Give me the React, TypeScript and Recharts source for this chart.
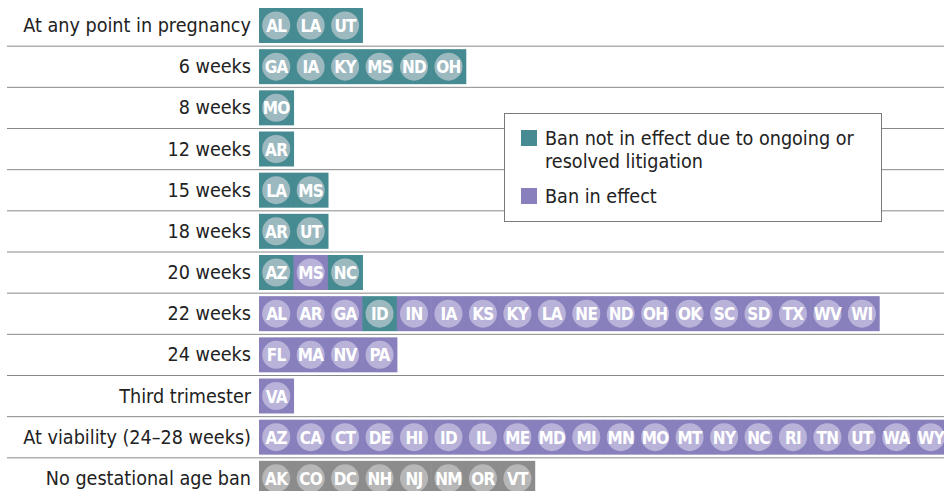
import React from 'react';
import { BarChart, Bar, XAxis, YAxis, Legend } from 'recharts';

const rowLabels = [
  'At any point in pregnancy',
  '6 weeks',
  '8 weeks',
  '12 weeks',
  '15 weeks',
  '18 weeks',
  '20 weeks',
  '22 weeks',
  '24 weeks',
  'Third trimester',
  'At viability (24–28 weeks)',
  'No gestational age ban',
];

const rowStates = [
  ['AL', 'LA', 'UT'],
  ['GA', 'IA', 'KY', 'MS', 'ND', 'OH'],
  ['MO'],
  ['AR'],
  ['LA', 'MS'],
  ['AR', 'UT'],
  ['AZ', 'MS', 'NC'],
  ['AL', 'AR', 'GA', 'ID', 'IN', 'IA', 'KS', 'KY', 'LA', 'NE', 'ND', 'OH', 'OK', 'SC', 'SD', 'TX', 'WV', 'WI'],
  ['FL', 'MA', 'NV', 'PA'],
  ['VA'],
  ['AZ', 'CA', 'CT', 'DE', 'HI', 'ID', 'IL', 'ME', 'MD', 'MI', 'MN', 'MO', 'MT', 'NY', 'NC', 'RI', 'TN', 'UT', 'WA', 'WY'],
  ['AK', 'CO', 'DC', 'NH', 'NJ', 'NM', 'OR', 'VT'],
];

// L = ban not in effect (litigation), E = ban in effect, N = no ban
const rowStatus = [
  'LLL',
  'LLLLLL',
  'L',
  'L',
  'LL',
  'LL',
  'LEL',
  'EEELEEEEEEEEEEEEEE',
  'EEEE',
  'E',
  'EEEEEEEEEEEEEEEEEEEE',
  'NNNNNNNN',
];

const legendItems = [
  { label: 'Ban not in effect due to ongoing or resolved litigation', status: 'L' },
  { label: 'Ban in effect', status: 'E' },
];

const COLORS: Record<string, { bar: string; dot: string }> = {
  L: { bar: '#458b91', dot: '#9db9c0' },
  E: { bar: '#8880bd', dot: '#b9b3da' },
  N: { bar: '#8c8c8c', dot: '#b7b7b7' },
};

const MAX_CELLS = Math.max(...rowStates.map((s) => s.length));
const FONT = "'Liberation Sans Narrow', 'DejaVu Sans Condensed', sans-serif";

const CHART_W = 948;
const CHART_H = 499;
const MARGIN_TOP = 5;
const BAND = (CHART_H - MARGIN_TOP) / rowLabels.length;

const data = rowLabels.map((label, r) => {
  const row: Record<string, any> = { label, row: r };
  for (let c = 0; c < MAX_CELLS; c++) {
    row[`c${c}`] = c < rowStates[r].length ? 1 : null;
  }
  return row;
});

function StateCell(props: any) {
  const { x, y, width, height, payload, col } = props;
  const r = payload.row;
  const code = rowStates[r][col];
  if (!code || !width) return null;
  const colors = COLORS[rowStatus[r][col]];
  const cx = x + width / 2;
  const cy = y + height / 2;
  return (
    <g>
      <rect x={x} y={y} width={width + 0.6} height={height} fill={colors.bar} />
      <circle cx={cx} cy={cy} r={14} fill={colors.dot} />
      <text
        x={cx}
        y={cy + 0.5}
        textAnchor="middle"
        dominantBaseline="central"
        fill="#fff"
        fontFamily={FONT}
        fontWeight="bold"
        fontSize={17}
        letterSpacing={-0.7}
      >
        {code}
      </text>
    </g>
  );
}

function RowTick(props: any) {
  const { x, y, payload, index } = props;
  const last = index === rowLabels.length - 1;
  return (
    <g>
      <text
        x={x}
        y={y}
        textAnchor="end"
        dominantBaseline="central"
        fill="#222"
        fontFamily={FONT}
        fontSize={19.6}
      >
        {payload.value}
      </text>
      {!last && (
        <line x1={7} x2={CHART_W} y1={y + BAND / 2} y2={y + BAND / 2} stroke="#888" strokeWidth={1} />
      )}
    </g>
  );
}

function LegendBox() {
  return (
    <div
      style={{
        boxSizing: 'border-box',
        width: 378,
        height: 109,
        background: '#fff',
        border: '1px solid #7a7a7a',
        padding: '13px 16px 0 16px',
        fontFamily: FONT,
        fontSize: 19.6,
        lineHeight: '23px',
        color: '#222',
        textAlign: 'left',
      }}
    >
      {legendItems.map((item, i) => (
        <div key={item.status} style={{ display: 'flex', alignItems: 'flex-start', marginTop: i ? 12 : 0 }}>
          <span
            style={{
              flex: '0 0 auto',
              width: 16,
              height: 16,
              marginTop: 3,
              marginRight: 8,
              background: COLORS[item.status].bar,
            }}
          />
          <span style={{ maxWidth: 320 }}>{item.label}</span>
        </div>
      ))}
    </div>
  );
}

export default function App() {
  return (
    <div style={{ position: 'fixed', left: 0, top: 0, width: 944, height: 491, overflow: 'hidden', background: '#fff' }}>
      <BarChart
        width={CHART_W}
        height={CHART_H}
        data={data}
        layout="vertical"
        barSize={35}
        margin={{ top: MARGIN_TOP, right: 0, bottom: 0, left: 0 }}
      >
        <XAxis type="number" domain={[0, MAX_CELLS]} hide />
        <YAxis
          type="category"
          dataKey="label"
          width={259}
          axisLine={false}
          tickLine={false}
          tick={<RowTick />}
          interval={0}
        />
        <Legend
          layout="vertical"
          align="center"
          verticalAlign="middle"
          content={() => <LegendBox />}
          wrapperStyle={{ left: 504, top: 113, width: 378 }}
        />
        {Array.from({ length: MAX_CELLS }, (_, c) => (
          <Bar
            key={c}
            dataKey={`c${c}`}
            stackId="cells"
            isAnimationActive={false}
            shape={(p: any) => <StateCell {...p} col={c} />}
          />
        ))}
      </BarChart>
    </div>
  );
}
